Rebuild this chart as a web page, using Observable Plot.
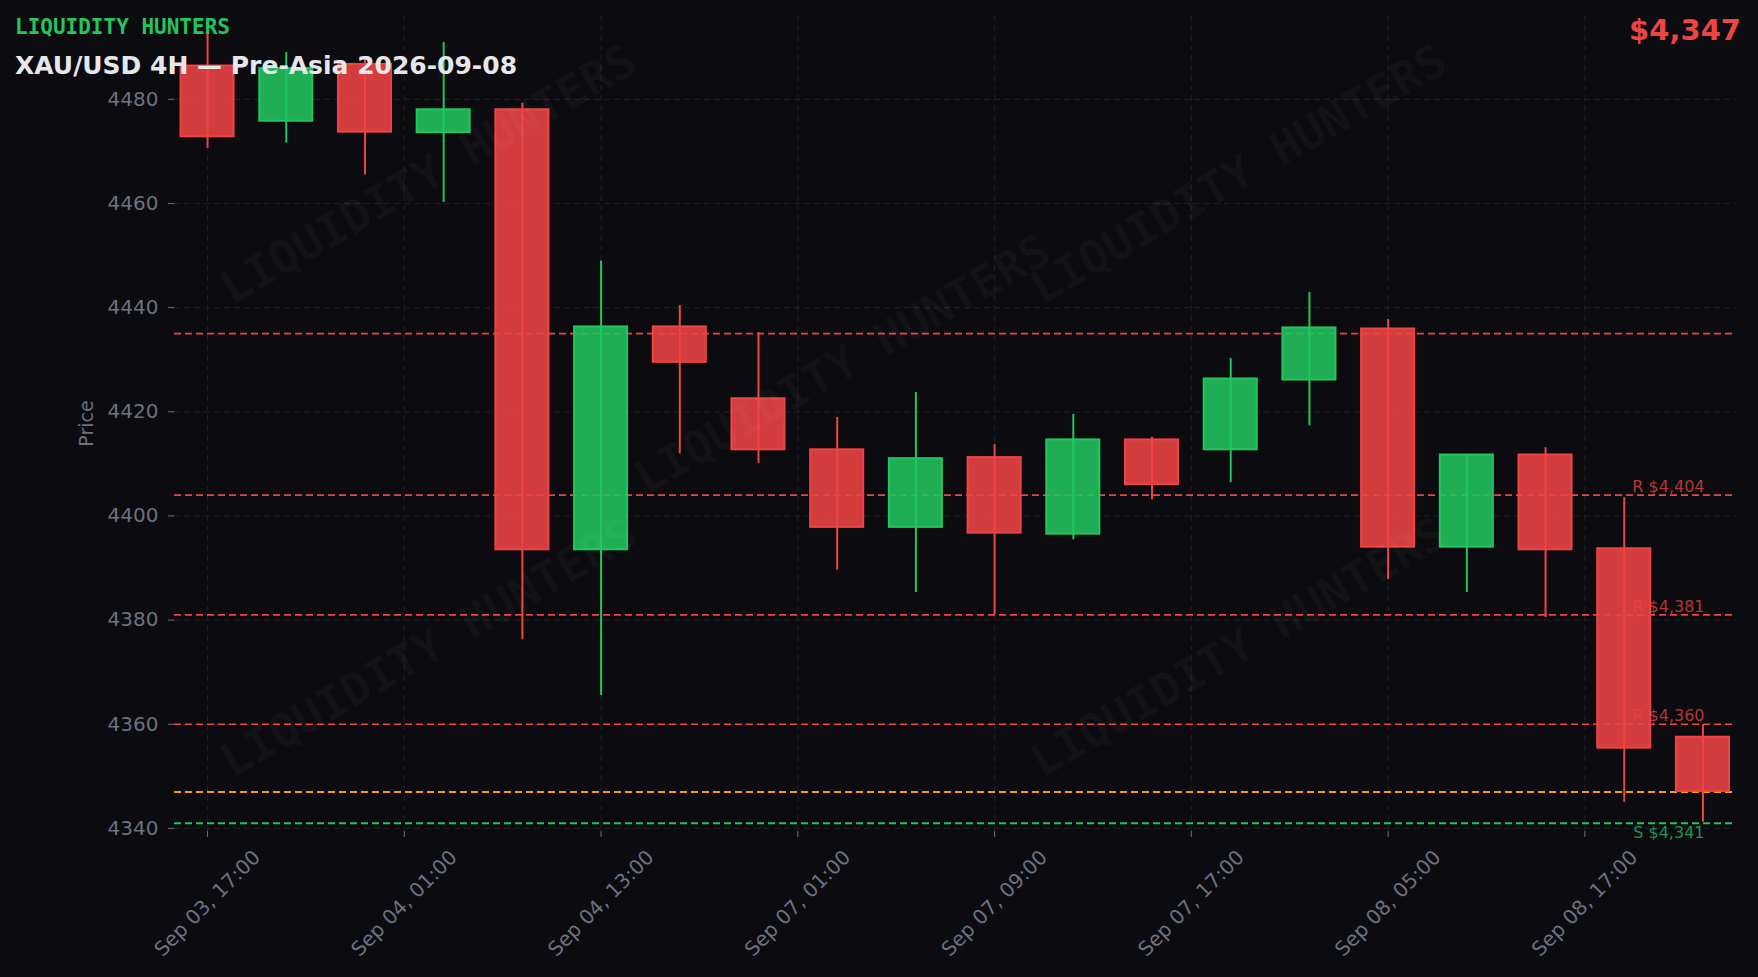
<!DOCTYPE html>
<html>
<head>
<meta charset="utf-8">
<script src="https://cdn.jsdelivr.net/npm/d3@7"></script>
<script src="https://cdn.jsdelivr.net/npm/@observablehq/plot@0.6"></script>
<style>
  html, body { margin: 0; padding: 0; background: #0b0b10; }
  #wrap { position: relative; width: 1758px; height: 977px; overflow: hidden; background: #0b0b10; }
  #chart svg { display: block; }
  .ov { position: absolute; white-space: nowrap; pointer-events: none; line-height: 1; }
  #brand { left: 15px; top: 15px; font: bold 21px "DejaVu Sans Mono", monospace; color: #22c55e; }
  #title { left: 15px; top: 51px; font: bold 25px "DejaVu Sans", sans-serif; color: #e5e7eb; }
  #price { right: 17px; top: 13px; font: bold 29px "DejaVu Sans", sans-serif; color: #ef4444; }
  .wm { font: bold 46px "DejaVu Sans Mono", monospace; color: rgba(255,255,255,0.035); transform: translate(-50%, -50%) rotate(-30deg); }
</style>
</head>
<body>
<div id="wrap">
  <div id="chart"></div>
  <div class="ov wm" style="left:428px;top:174px">LIQUIDITY HUNTERS</div>
  <div class="ov wm" style="left:1238px;top:174px">LIQUIDITY HUNTERS</div>
  <div class="ov wm" style="left:842px;top:364px">LIQUIDITY HUNTERS</div>
  <div class="ov wm" style="left:428px;top:647px">LIQUIDITY HUNTERS</div>
  <div class="ov wm" style="left:1238px;top:647px">LIQUIDITY HUNTERS</div>
  <div class="ov" id="brand">LIQUIDITY HUNTERS</div>
  <div class="ov" id="title">XAU/USD 4H — Pre-Asia 2026-09-08</div>
  <div class="ov" id="price">$4,347</div>
</div>
<script>
// ---- data ----
const opens  = [4486.4, 4475.8, 4486.7, 4473.6, 4478.0, 4393.5, 4436.3, 4422.5, 4412.7, 4397.8, 4411.2, 4396.5, 4414.6, 4412.7, 4426.1, 4435.9, 4394.0, 4411.7, 4393.7, 4357.5];
const highs  = [4492.6, 4489.0, 4488.0, 4490.9, 4479.2, 4448.9, 4440.4, 4435.2, 4418.9, 4423.7, 4413.7, 4419.5, 4415.1, 4430.2, 4442.9, 4437.7, 4411.7, 4413.1, 4403.5, 4359.9];
const lows   = [4470.6, 4471.6, 4465.5, 4460.2, 4376.2, 4365.5, 4411.9, 4410.1, 4389.6, 4385.3, 4381.0, 4395.4, 4403.1, 4406.4, 4417.3, 4387.8, 4385.3, 4380.5, 4345.0, 4341.2];
const closes = [4472.8, 4485.9, 4473.7, 4478.0, 4393.5, 4436.3, 4429.5, 4412.7, 4397.8, 4411.0, 4396.7, 4414.6, 4406.0, 4426.3, 4436.1, 4394.0, 4411.7, 4393.5, 4355.4, 4347.1];

const xTickPos    = [0, 2.5, 5, 7.5, 10, 12.5, 15, 17.5];
const xTickLabels = ["Sep 03, 17:00", "Sep 04, 01:00", "Sep 04, 13:00", "Sep 07, 01:00", "Sep 07, 09:00", "Sep 07, 17:00", "Sep 08, 05:00", "Sep 08, 17:00"];
const yTicks = [4340, 4360, 4380, 4400, 4420, 4440, 4460, 4480];

const levelPrices = [4435, 4404, 4381, 4360, 4347, 4341];
const levelKinds  = ["R", "R", "R", "R", "P", "S"];
const levelLabels = ["", "R $4,404", "R $4,381", "R $4,360", "", "S $4,341"];

// ---- build tables ----
const candles = opens.map((o, i) => ({i, open: o, high: highs[i], low: lows[i], close: closes[i], up: closes[i] >= o}));
const levels = levelPrices.map((p, i) => ({price: p, kind: levelKinds[i], label: levelLabels[i]}));
const xTicks = xTickPos.map((p, i) => ({pos: p, label: xTickLabels[i]}));

const RED = "#ef4444", GREEN = "#22c55e", ORANGE = "#f59e0b", GRAY = "#6b7280", GRID = "#1d1d27";
const kindColor = {R: RED, S: GREEN, P: ORANGE};
const cColor = d => d.up ? GREEN : RED;

const chart = Plot.plot({
  width: 1758,
  height: 977,
  marginLeft: 174,
  marginRight: 22.5,
  marginTop: 15,
  marginBottom: 146,
  style: {background: "transparent", fontFamily: "DejaVu Sans, sans-serif"},
  x: {domain: [-0.42, 19.42], axis: null},
  y: {domain: [4339.4, 4496.1], axis: null},
  marks: [
    Plot.gridY(yTicks, {stroke: GRID, strokeOpacity: 1, strokeWidth: 1.2, strokeDasharray: "6,4"}),
    Plot.gridX(xTickPos, {stroke: GRID, strokeOpacity: 1, strokeWidth: 1.2, strokeDasharray: "6,4"}),
    Plot.axisY(yTicks, {tickSize: 6, tickPadding: 10, fontSize: 20, color: GRAY, label: null, tickFormat: d => String(d)}),
    Plot.axisX(xTickPos, {tickSize: 6, tickFormat: () => "", color: GRAY, label: null}),
    Plot.text(xTicks, {x: "pos", text: "label", frameAnchor: "bottom", dy: 72, rotate: -45,
      textAnchor: "middle", lineAnchor: "middle", fill: GRAY, fontSize: 20}),
    Plot.text(["Price"], {frameAnchor: "left", dx: -88, rotate: -90, text: d => d,
      textAnchor: "middle", lineAnchor: "middle", fill: GRAY, fontSize: 19}),
    Plot.ruleY(levels, {y: "price", stroke: d => kindColor[d.kind],
      strokeWidth: d => d.kind === "R" ? 1.6 : 2, strokeDasharray: "7,4"}),
    Plot.ruleX(candles, {x: "i", y1: "low", y2: "high", stroke: cColor, strokeWidth: 2}),
    Plot.rect(candles, {x1: d => d.i - 0.337, x2: d => d.i + 0.337, y1: "open", y2: "close",
      fill: cColor, fillOpacity: 0.88, stroke: cColor, strokeWidth: 2}),
    Plot.text(levels.filter(d => d.label && d.kind === "R"), {y: "price", text: "label",
      frameAnchor: "right", dx: -31.5, dy: -3, textAnchor: "end", lineAnchor: "bottom",
      fill: RED, fillOpacity: 0.75, fontSize: 16}),
    Plot.text(levels.filter(d => d.label && d.kind === "S"), {y: "price", text: "label",
      frameAnchor: "right", dx: -31.5, dy: 3, textAnchor: "end", lineAnchor: "top",
      fill: GREEN, fillOpacity: 0.75, fontSize: 16})
  ]
});
document.getElementById("chart").appendChild(chart);
</script>
</body>
</html>
